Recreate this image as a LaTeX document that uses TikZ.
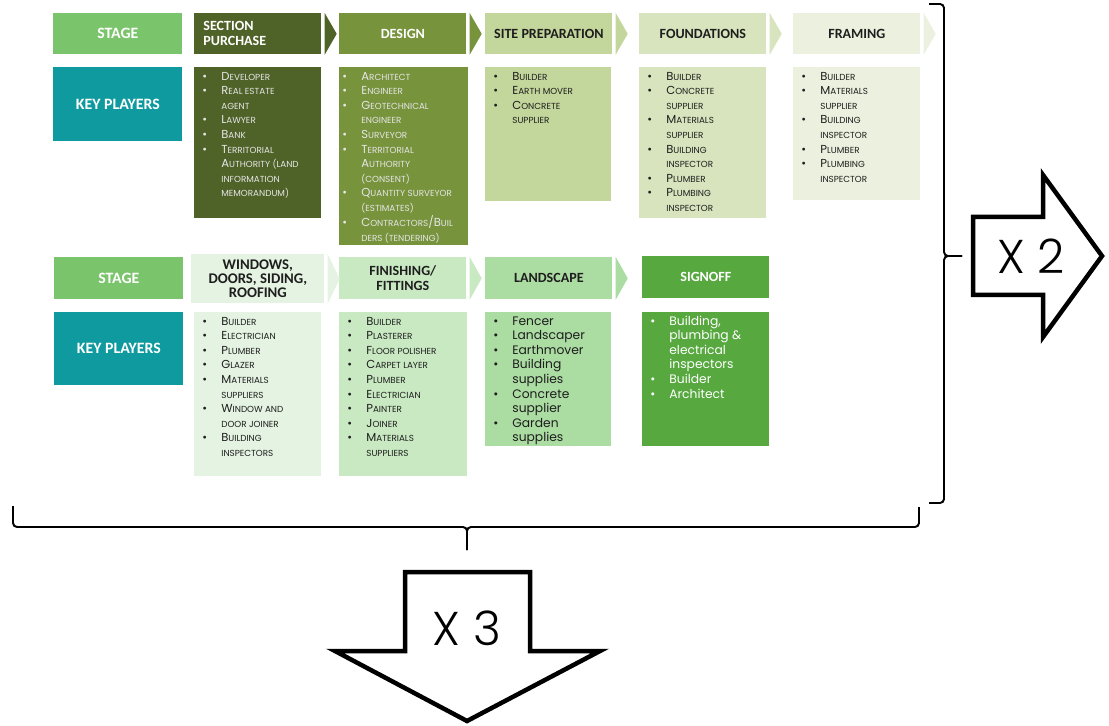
\documentclass[tikz,border=0pt]{standalone}
\usepackage{fontspec}
\setmainfont{Poppins}
\newfontfamily\headfont{Carlito}
\newfontfamily\thinfont{Poppins}[UprightFont=* Light]
\usepackage{xcolor}
\usepackage{tikz}
\usetikzlibrary{positioning}

\definecolor{stagegreen}{HTML}{7AC46B}
\definecolor{keyteal}{HTML}{0F9A9F}
\definecolor{sectioncol}{HTML}{4F6228}
\definecolor{designcol}{HTML}{77933C}
\definecolor{sitecol}{HTML}{C3D69B}
\definecolor{foundcol}{HTML}{D7E4BD}
\definecolor{framecol}{HTML}{EBF1DE}
\definecolor{windowcol}{HTML}{E5F4E2}
\definecolor{finishcol}{HTML}{C9E9C2}
\definecolor{landcol}{HTML}{ABDCA2}
\definecolor{signcol}{HTML}{57A83F}
\definecolor{darktext}{HTML}{1E1E1E}
\definecolor{lighttext}{HTML}{E6E6E6}

% small caps by hand
\newcommand{\sm}[1]{{\fontsize{5}{8.3}\selectfont\MakeUppercase{#1}}}
\newcommand{\bt}{\textbullet}
% bullet list of key players: [left pad]{width}{height}{rows}
\newcommand{\plist}[4][1.6mm]{\parbox[t][#3][t]{#2}{\begin{tabular}{@{\hspace{#1}}p{3.8mm}@{}l@{}}#4\end{tabular}}}
% chevron after a stage box
\newcommand{\chev}[2]{\fill[#2] ([xshift=0.6mm]#1.north east) -- ([xshift=3mm]#1.east) -- ([xshift=0.6mm]#1.south east) -- cycle;}

\begin{document}
\begin{tikzpicture}[x=0.2mm, y=-0.2mm,
  stagebox/.style={fill=stagegreen, minimum width=25.8mm, inner sep=0pt, anchor=north west, text=white, font=\headfont\fontsize{9}{10}\selectfont\bfseries},
  headbox/.style={minimum width=25.4mm, minimum height=8.2mm, inner sep=0pt, anchor=north west, align=center, text=darktext, font=\headfont\fontsize{8}{8.5}\selectfont\bfseries},
  listbox/.style={inner xsep=0pt, inner ysep=1.6pt, text=darktext, font=\fontsize{6.6}{8.3}\selectfont},
  bigarrow/.style={line width=0.9mm, line join=miter},
  rep/.style={font=\thinfont\fontsize{27}{30}\selectfont},
  curly/.style={line width=1.1pt, rounded corners=0.8mm}
]
  \useasboundingbox (0,0) rectangle (1109,726);

  % First row: stages
  \node[stagebox, minimum height=8.2mm] (stage1) at (53,13) {STAGE};
  \node[headbox, fill=sectioncol, text=white, text width=21.8mm, align=left] (hsp) at (194,13) {SECTION\\PURCHASE};
  \node[headbox, fill=designcol, text=white] (hde) at (339,13) {DESIGN};
  \node[headbox, fill=sitecol] (hsi) at (485,13) {SITE PREPARATION};
  \node[headbox, fill=foundcol] (hfo) at (639,13) {FOUNDATIONS};
  \node[headbox, fill=framecol] (hfr) at (793,13) {FRAMING};
  \chev{hsp}{sectioncol}
  \chev{hde}{designcol}
  \chev{hsi}{sitecol}
  \chev{hfo}{foundcol}
  \chev{hfr}{framecol}

  % First row: key players
  \node[stagebox, fill=keyteal, minimum height=14.8mm, below=2.4mm of stage1] (key1) {KEY PLAYERS};
  \node[listbox, fill=sectioncol, text=lighttext, below=2.4mm of hsp.south west, anchor=north west] (psp) {\plist{25.4mm}{29.1mm}{
    \bt & D\sm{eveloper}\\
    \bt & R\sm{eal estate}\\
        & \sm{agent}\\
    \bt & L\sm{awyer}\\
    \bt & B\sm{ank}\\
    \bt & T\sm{erritorial}\\
        & A\sm{uthority (land}\\
        & \sm{information}\\
        & \sm{memorandum)}}};
  \node[listbox, fill=designcol, text=lighttext, below=2.4mm of hde.south west, anchor=north west] (pde) {\plist[0.6mm]{25.8mm}{34.5mm}{
    \bt & A\sm{rchitect}\\
    \bt & E\sm{ngineer}\\
    \bt & G\sm{eotechnical}\\
        & \sm{engineer}\\
    \bt & S\sm{urveyor}\\
    \bt & T\sm{erritorial}\\
        & A\sm{uthority}\\
        & \sm{(consent)}\\
    \bt & Q\sm{uantity surveyor}\\
        & \sm{(estimates)}\\
    \bt & C\sm{ontractors}/B\sm{uil}\\
        & \sm{ders (tendering)}}};
  \node[listbox, fill=sitecol, below=2.4mm of hsi.south west, anchor=north west] (psi) {\plist{25.2mm}{25.7mm}{
    \bt & B\sm{uilder}\\
    \bt & E\sm{arth mover}\\
    \bt & C\sm{oncrete}\\
        & \sm{supplier}}};
  \node[listbox, fill=foundcol, below=2.4mm of hfo.south west, anchor=north west] (pfo) {\plist{25.4mm}{29.1mm}{
    \bt & B\sm{uilder}\\
    \bt & C\sm{oncrete}\\
        & \sm{supplier}\\
    \bt & M\sm{aterials}\\
        & \sm{supplier}\\
    \bt & B\sm{uilding}\\
        & \sm{inspector}\\
    \bt & P\sm{lumber}\\
    \bt & P\sm{lumbing}\\
        & \sm{inspector}}};
  \node[listbox, fill=framecol, below=2.4mm of hfr.south west, anchor=north west] (pfr) {\plist{25.4mm}{25.5mm}{
    \bt & B\sm{uilder}\\
    \bt & M\sm{aterials}\\
        & \sm{supplier}\\
    \bt & B\sm{uilding}\\
        & \sm{inspector}\\
    \bt & P\sm{lumber}\\
    \bt & P\sm{lumbing}\\
        & \sm{inspector}}};

  % Second row: stages
  \node[stagebox, minimum height=8.4mm] (stage2) at (54,257) {STAGE};
  \node[headbox, fill=windowcol, minimum width=26.6mm, minimum height=9.8mm, font=\headfont\fontsize{8.4}{8}\selectfont\bfseries] (hwi) at (191,254) {WINDOWS,\\DOORS, SIDING,\\ROOFING};
  \node[headbox, fill=finishcol, minimum height=8.4mm] (hfi) at (339,257) {FINISHING/\\FITTINGS};
  \node[headbox, fill=landcol, minimum height=8.4mm] (hla) at (485,257) {LANDSCAPE};
  \node[headbox, fill=signcol, text=white, minimum height=8.4mm] (hso) at (642,256) {SIGNOFF};
  \chev{hwi}{windowcol}
  \chev{hfi}{finishcol}
  \chev{hla}{landcol}

  % Second row: key players
  \node[stagebox, fill=keyteal, minimum height=14.6mm, below=2.4mm of stage2] (key2) {KEY PLAYERS};
  \node[listbox, fill=windowcol, below=1.6mm of hwi] (pwi) {\plist{25.4mm}{31.7mm}{
    \bt & B\sm{uilder}\\
    \bt & E\sm{lectrician}\\
    \bt & P\sm{lumber}\\
    \bt & G\sm{lazer}\\
    \bt & M\sm{aterials}\\
        & \sm{suppliers}\\
    \bt & W\sm{indow and}\\
        & \sm{door joiner}\\
    \bt & B\sm{uilding}\\
        & \sm{inspectors}}};
  \node[listbox, fill=finishcol, below=2.4mm of hfi.south west, anchor=north west] (pfi) {\plist{25.6mm}{31.7mm}{
    \bt & B\sm{uilder}\\
    \bt & P\sm{lasterer}\\
    \bt & F\sm{loor polisher}\\
    \bt & C\sm{arpet layer}\\
    \bt & P\sm{lumber}\\
    \bt & E\sm{lectrician}\\
    \bt & P\sm{ainter}\\
    \bt & J\sm{oiner}\\
    \bt & M\sm{aterials}\\
        & \sm{suppliers}}};
  \node[listbox, fill=landcol, font=\fontsize{7}{8.3}\selectfont, below=2.4mm of hla.south west, anchor=north west] (pla) {\plist{25.2mm}{25.7mm}{
    \bt & Fencer\\
    \bt & Landscaper\\
    \bt & Earthmover\\
    \bt & Building\\
        & supplies\\
    \bt & Concrete\\
        & supplier\\
    \bt & Garden\\
        & supplies}};
  \node[listbox, fill=signcol, text=white, font=\fontsize{7}{8.3}\selectfont, below=2.6mm of hso.south west, anchor=north west] (pso) {\plist{25.4mm}{25.7mm}{
    \bt & Building,\\
        & plumbing \&\\
        & electrical\\
        & inspectors\\
    \bt & Builder\\
    \bt & Architect}};

  % Braces
  \draw[curly] (929,4) -- (944,4) -- (944,256) -- (962,256);
  \draw[curly] (929,503) -- (944,503) -- (944,256) -- (962,256);
  \draw[curly] (13,506) -- (13,527) -- (467,527) -- (467,550);
  \draw[curly] (919,507) -- (919,527) -- (467,527) -- (467,550);

  % Repeat arrows
  \draw[bigarrow] (973,217) -- (1043,217) -- (1043,175) -- (1102,256) -- (1043,337) -- (1043,295) -- (973,295) -- cycle;
  \node[rep] (x2) at (1031,256) {X 2};
  \draw[bigarrow] (405,572) -- (530,572) -- (530,651) -- (600,651) -- (467,721) -- (335,651) -- (405,651) -- cycle;
  \node[rep] (x3) at (467,628) {X 3};

\end{tikzpicture}
\end{document}
